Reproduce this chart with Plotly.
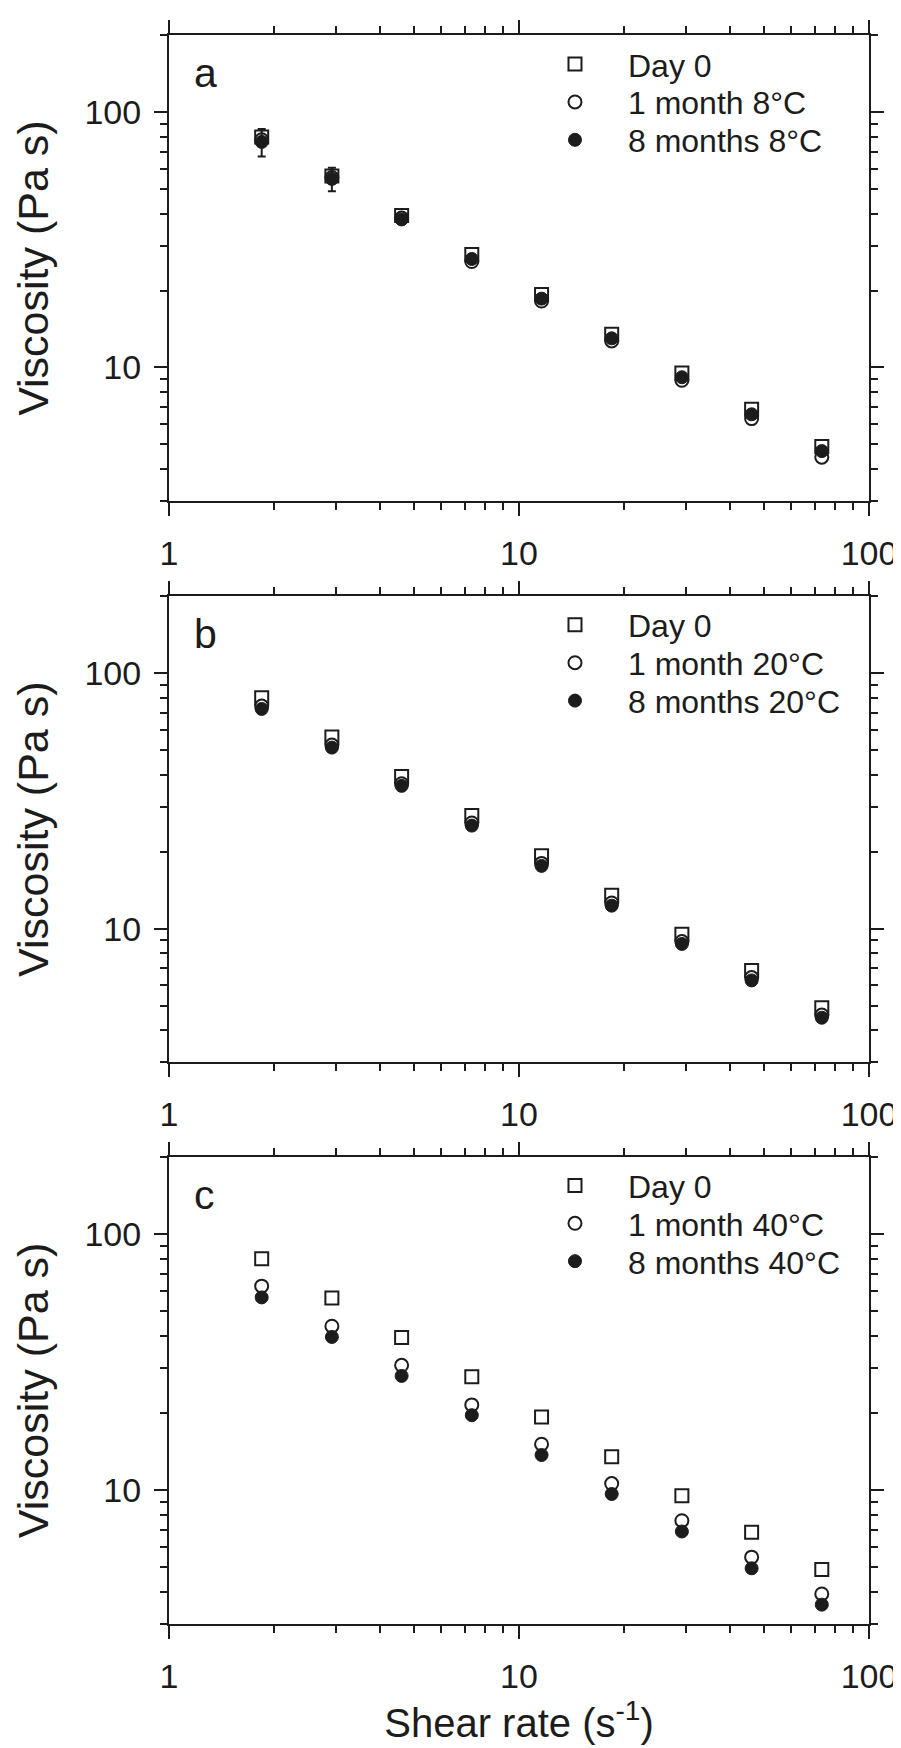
import math
import plotly.graph_objects as go

# ---------------- data ----------------
shear_rate = [1.84, 2.92, 4.62, 7.33, 11.6, 18.4, 29.2, 46.2, 73.3]
day0 = [80.0, 56.2, 39.4, 27.7, 19.3, 13.5, 9.5, 6.85, 4.9]

# panel a (8 °C)
m1_8C = [78.0, 55.5, 38.5, 26.0, 18.2, 12.7, 8.9, 6.3, 4.45]
m8_8C = [76.5, 54.8, 38.0, 26.6, 18.6, 13.0, 9.15, 6.55, 4.7]
m8_8C_err = [9.5, 5.8, 0, 0, 0, 0, 0, 0, 0]

# panel b (20 °C)
m1_20C = [74.3, 52.3, 36.9, 25.9, 18.0, 12.6, 8.9, 6.43, 4.59]
m8_20C = [72.4, 51.1, 36.2, 25.3, 17.6, 12.3, 8.71, 6.27, 4.48]

# panel c (40 °C)
m1_40C = [62.5, 43.6, 30.7, 21.5, 15.1, 10.6, 7.59, 5.47, 3.93]
m8_40C = [56.5, 39.6, 27.9, 19.6, 13.7, 9.65, 6.89, 4.95, 3.57]

panel_letters = ["a", "b", "c"]
legend_labels = [
    ["Day 0", "1 month 8°C", "8 months 8°C"],
    ["Day 0", "1 month 20°C", "8 months 20°C"],
    ["Day 0", "1 month 40°C", "8 months 40°C"],
]
x_tickvals = [1, 10, 100]
x_ticktext = ["1", "10", "100"]
x_minor = [2, 3, 4, 5, 6, 7, 8, 9, 20, 30, 40, 50, 60, 70, 80, 90]
y_tickvals = [10, 100]
y_ticktext = ["10", "100"]
y_minor = [3, 4, 5, 6, 7, 8, 9, 20, 30, 40, 50, 60, 70, 80, 90, 200]
x_range = [1, 100]
y_range = [3, 200]
x_title = "Shear rate (s<sup>-1</sup>)"
y_title = "Viscosity (Pa s)"

# ---------------- layout geometry (pixels) ----------------
W, H = 901, 1748
ML, MR, MT, MB = 161, 36, 21, 132
PW = W - ML - MR
PH = H - MT - MB
panel_px = [(21.4, 488.6), (584.3, 1052.1), (1147.0, 1616.0)]  # top, bottom
legend_offsets = [29, 67, 105]
legend_left_px = 516

FONT = "Arial, Liberation Sans, sans-serif"
INK = "#1c1c1c"


def py(px):
    return (MT + PH - px) / PH


def pxx(px):
    return (px - ML) / PW


series_sets = [
    (day0, m1_8C, m8_8C, m8_8C_err),
    (day0, m1_20C, m8_20C, None),
    (day0, m1_40C, m8_40C, None),
]

fig = go.Figure()
legend_no = 0
for i, (d0, m1, m8, err) in enumerate(series_sets):
    sfx = "" if i == 0 else str(i + 1)
    styles = [
        dict(symbol="square-open", size=13, color=INK, line=dict(width=2, color=INK)),
        dict(symbol="circle", size=13, color="white", line=dict(width=2, color=INK)),
        dict(symbol="circle", size=13, color=INK, line=dict(width=1, color=INK)),
    ]
    for j, vals in enumerate([d0, m1, m8]):
        legend_no += 1
        lg = "legend" if legend_no == 1 else f"legend{legend_no}"
        tr = go.Scatter(
            x=shear_rate, y=vals, mode="markers", name=legend_labels[i][j],
            marker=styles[j], xaxis="x" + sfx, yaxis="y" + sfx, legend=lg,
            showlegend=True,
        )
        if j == 2 and err is not None:
            tr.error_y = dict(type="data", array=err, visible=True,
                              color=INK, thickness=2, width=4)
        fig.add_trace(tr)

layout = dict(
    width=W, height=H,
    margin=dict(l=ML, r=MR, t=MT, b=MB),
    paper_bgcolor="white", plot_bgcolor="white",
    font=dict(family=FONT, color=INK),
    showlegend=True,
)

axis_common = dict(
    showline=True, linewidth=2, linecolor=INK, mirror="allticks",
    ticks="outside", ticklen=13, tickwidth=2, tickcolor=INK,
    showgrid=False, zeroline=False, ticklabeloverflow="allow",
    tickfont=dict(family=FONT, size=34, color=INK),
)

annotations = []
legend_no = 0
for i, (top, bot) in enumerate(panel_px):
    sfx = "" if i == 0 else str(i + 1)
    xa = dict(axis_common, type="log", range=[math.log10(x_range[0]), math.log10(x_range[1])],
              tickmode="array", tickvals=x_tickvals, ticktext=x_ticktext,
              minor=dict(tickmode="array", tickvals=x_minor, ticks="outside", ticklen=7,
                         tickwidth=2, tickcolor=INK, showgrid=False),
              anchor="y" + sfx, domain=[0, 1], ticklabelstandoff=8)
    ya = dict(axis_common, type="log", range=[math.log10(y_range[0]), math.log10(y_range[1])],
              tickmode="array", tickvals=y_tickvals, ticktext=y_ticktext,
              minor=dict(tickmode="array", tickvals=y_minor, ticks="outside", ticklen=7,
                         tickwidth=2, tickcolor=INK, showgrid=False),
              anchor="x" + sfx, domain=[py(bot), py(top)], ticklabelstandoff=6,
              title=dict(text=y_title, font=dict(family=FONT, size=43, color=INK), standoff=22))
    if i == 2:
        xa["title"] = dict(text=x_title, font=dict(family=FONT, size=40, color=INK), standoff=8)
    layout["xaxis" + sfx] = xa
    layout["yaxis" + sfx] = ya

    annotations.append(dict(
        text=panel_letters[i], xref="paper", yref="paper",
        x=pxx(184), y=py(top + 38), xanchor="left", yanchor="middle",
        showarrow=False, font=dict(family=FONT, size=41, color=INK)))

    for j in range(3):
        legend_no += 1
        key = "legend" if legend_no == 1 else f"legend{legend_no}"
        layout[key] = dict(
            x=pxx(legend_left_px), y=py(top + legend_offsets[j]),
            xanchor="left", yanchor="middle", xref="paper", yref="paper",
            bgcolor="rgba(0,0,0,0)", borderwidth=0, itemwidth=96,
            font=dict(family=FONT, size=32, color=INK),
        )

layout["annotations"] = annotations
fig.update_layout(**layout)
fig.write_html("out.html")
